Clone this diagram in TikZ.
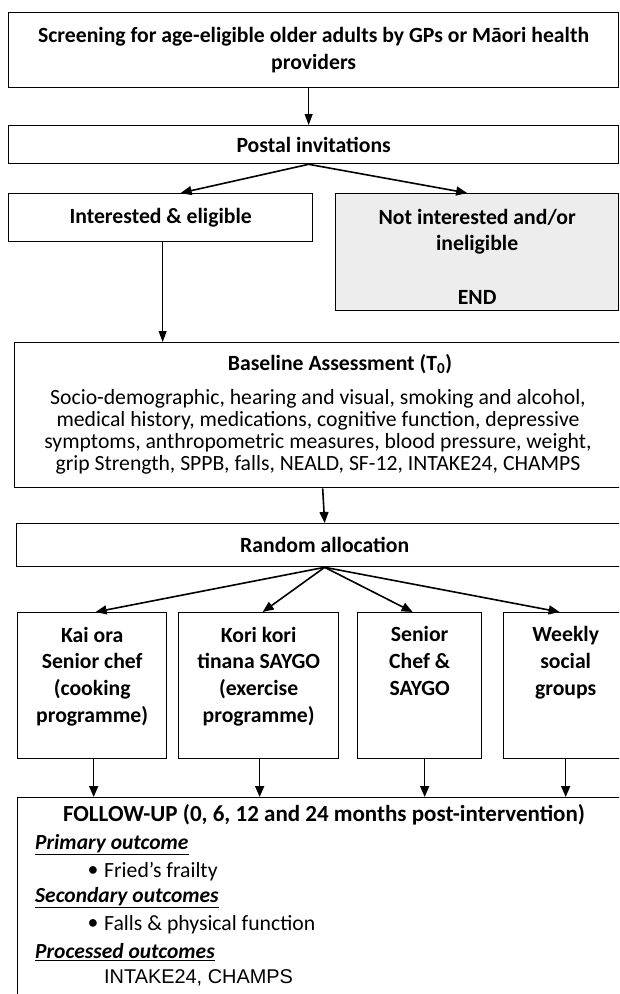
\documentclass[tikz,border=0pt]{standalone}
\usepackage{fontspec}
\setmainfont{Carlito}
\newfontfamily\arialfont{Liberation Sans}
\usetikzlibrary{arrows.meta}
\definecolor{endgrey}{HTML}{EDEDED}

\begin{document}
\begin{tikzpicture}[x=1pt,y=-1pt,
  box/.style={draw,line width=1.3pt,inner sep=0pt,align=center,anchor=north west},
  hdr/.style={font=\fontsize{21.7}{26.7}\selectfont\bfseries},
  body/.style={font=\fontsize{21.7}{26.7}\selectfont,inner sep=0pt},
  outc/.style={font=\fontsize{21.5}{26.7}\selectfont\bfseries\itshape,inner sep=0pt,anchor=west},
  armbox/.style 2 args={box,hdr,text height=#1,text depth=#2},
  arr/.style={line width=1.6pt,-{Triangle[length=11pt,width=9pt]}},
  arrthin/.style={line width=0.9pt,-{Triangle[length=11pt,width=8pt]}}]
\useasboundingbox (0,0) rectangle (619,994);
\clip (0,0) rectangle (619,994);

\node[box,hdr,minimum width=610pt,minimum height=75pt] (screen) at (8,12) {Screening for age-eligible older adults by GPs or Māori health\\providers};
\node[box,hdr,minimum width=610pt,minimum height=38pt] (postal) at (8,125) {Postal invitations};
\node[box,hdr,minimum width=304pt,minimum height=48pt] (inter) at (8,193) {Interested \& eligible};
\node[box,hdr,fill=endgrey,minimum width=283pt,text height=110.5pt,text depth=6.5pt] (notint) at (335,193) {Not interested and/or\\ineligible\\[26.7pt]END};

\node[box,minimum width=616pt,minimum height=145pt] (base) at (14,342) {};
\node[hdr,inner sep=0pt] (basettl) at (340,364) {Baseline Assessment (T\textsubscript{0})};
\node[body,align=center,font=\fontsize{21.7}{22}\selectfont] (basetxt) at (318,432) {Socio-demographic, hearing and visual, smoking and alcohol,\\medical history, medications, cognitive function, depressive\\symptoms, anthropometric measures, blood pressure, weight,\\grip Strength, SPPB, falls, NEALD, SF-12, INTAKE24, CHAMPS};

\node[box,hdr,minimum width=616pt,minimum height=43pt] (rand) at (16,523) {Random allocation};

\node[armbox={109.5pt}{36.5pt},minimum width=149pt] (arm1) at (17,612) {Kai ora\\Senior chef\\(cooking\\programme)};
\node[armbox={109.5pt}{36.5pt},minimum width=160pt] (arm2) at (178,612) {Kori kori\\tinana SAYGO\\(exercise\\programme)};
\node[armbox={82.5pt}{63.5pt},minimum width=124pt] (arm3) at (357,612) {Senior\\Chef \&\\SAYGO};
\node[armbox={82.5pt}{63.5pt},minimum width=124pt] (arm4) at (503,612) {Weekly\\social\\groups};

\node[box,minimum width=640pt,minimum height=220pt] (follow) at (17,797) {};
\node[hdr,inner sep=0pt,font=\fontsize{23}{26.7}\selectfont\bfseries] (fuhead) at (324,815) {FOLLOW-UP (0, 6, 12 and 24 months post-intervention)};
\node[outc] (prim) at (35,845) {\underline{Primary outcome}};
\node[body] (dot1) at (93,872) {•};
\node[body,anchor=west] (fried) at (104,872) {Fried’s frailty};
\node[outc] (second) at (35,898) {\underline{Secondary outcomes}};
\node[body] (dot2) at (93,925) {•};
\node[body,anchor=west] (falls) at (104,925) {Falls \& physical function};
\node[outc] (process) at (35,952) {\underline{Processed outcomes}};
\node[body,anchor=west,font=\arialfont\fontsize{19.9}{22}\selectfont] (intake) at (104,978) {INTAKE24, CHAMPS};

\draw[arrthin] ([xshift=-5pt]screen.south) -- ([xshift=-5pt]postal.north);
\draw[arr] ([xshift=-5pt]postal.south) -- ([xshift=20pt]inter.north);
\draw[arr] ([xshift=-5pt]postal.south) -- ([xshift=-10pt]notint.north);
\draw[arrthin] ([xshift=2pt]inter.south) -- ([xshift=2pt]inter.south |- base.north);
\draw[arr] (base.south) -- (rand.north);
\foreach \a/\s in {arm1/3.5,arm2/4,arm3/-7,arm4/-6}
  \draw[arr] (rand.south) -- ([xshift=\s pt]\a.north);
\foreach \a/\s in {arm1/1.5,arm2/1,arm3/5,arm4/0}
  \draw[arr] ([xshift=\s pt]\a.south) -- ([xshift=\s pt]\a.south |- follow.north);

\end{tikzpicture}
\end{document}
